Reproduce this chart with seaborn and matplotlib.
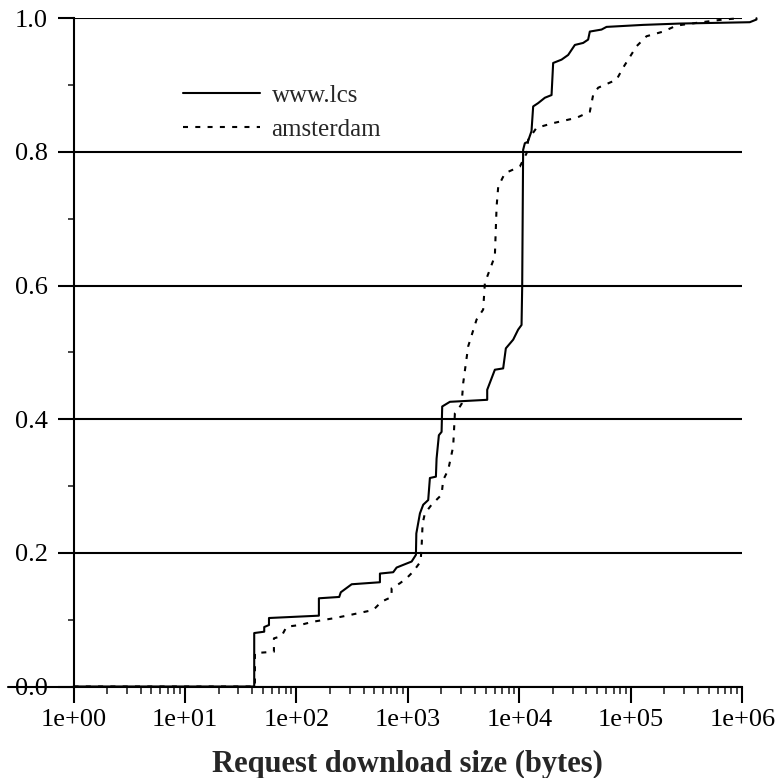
import numpy as np
import pandas as pd
import matplotlib
matplotlib.use("Agg")
import matplotlib.pyplot as plt
import matplotlib.ticker as mticker
import seaborn as sns

# ---- data (CDF vertices) ----
lcs_size = [1, 41.8, 41.8, 51.4, 51.4, 56.7, 56.7, 159, 159, 242, 250, 313, 561, 561,
            738, 792, 908, 1080, 1180, 1190, 1282, 1372, 1521, 1575, 1783, 1808, 1896,
            2005, 2031, 2381, 5146, 5146, 6027, 7155, 7564, 8800, 9750, 10460, 10600,
            10810, 11200, 11900, 12850, 13300, 14750, 16940, 19440, 20100, 23900, 27400,
            31470, 37350, 41400, 42860, 54580, 60530, 128900, 274900, 1167000, 1340000,
            1340000]
lcs_cdf = [0.0, 0.0, 0.080, 0.082, 0.089, 0.092, 0.1025, 0.106, 0.132, 0.134, 0.141, 0.153,
           0.156, 0.169, 0.171, 0.178, 0.182, 0.187, 0.197, 0.229, 0.259, 0.272, 0.279,
           0.312, 0.314, 0.341, 0.376, 0.381, 0.419, 0.426, 0.429, 0.444, 0.474, 0.476,
           0.506, 0.519, 0.534, 0.541, 0.598, 0.803, 0.813, 0.815, 0.831, 0.868, 0.873,
           0.881, 0.885, 0.933, 0.938, 0.945, 0.960, 0.963, 0.968, 0.980, 0.983, 0.987,
           0.990, 0.992, 0.994, 0.998, 1.0]

ams_size = [1, 42.4, 42.4, 62.8, 62.8, 73.6, 81.6, 107.5, 141.5, 213.9, 301.7, 488.6, 580.7,
            714, 714, 848, 973, 1116, 1300, 1327, 1355, 1420, 1631, 2005, 2073, 2298, 2547,
            2640, 2931, 3034, 3134, 3474, 4130, 4733, 4906, 6027, 6247, 6460, 7413, 10100,
            11610, 12000, 14260, 20100, 32590, 42860, 45900, 50930, 74450, 85310, 112500,
            138300, 195000, 257000, 388300, 673000, 950000]
ams_cdf = [0.0, 0.0, 0.050, 0.052, 0.072, 0.0756, 0.0895, 0.092, 0.097, 0.102, 0.107, 0.1145,
           0.127, 0.134, 0.147, 0.1545, 0.162, 0.172, 0.187, 0.209, 0.244, 0.259, 0.272,
           0.287, 0.309, 0.324, 0.359, 0.409, 0.419, 0.423, 0.454, 0.509, 0.549, 0.564,
           0.604, 0.644, 0.718, 0.748, 0.768, 0.778, 0.798, 0.818, 0.836, 0.843, 0.851,
           0.860, 0.885, 0.896, 0.908, 0.926, 0.958, 0.973, 0.980, 0.989, 0.993, 0.998, 1.0]

series_names = ["www.lcs", "amsterdam"]
x_ticks = [1e0, 1e1, 1e2, 1e3, 1e4, 1e5, 1e6]
y_ticks = [0.0, 0.2, 0.4, 0.6, 0.8, 1.0]
x_label = "Request download size (bytes)"

# ---- style ----
sns.set_style("ticks")
plt.rcParams["font.family"] = ["Liberation Serif", "DejaVu Serif"]
plt.rcParams["axes.linewidth"] = 1.5

fig = plt.figure(figsize=(7.78, 7.78), dpi=100)
ax = fig.add_axes([0.0945, 0.1176, 0.8596, 0.859])

lw = 1.5
sns.lineplot(x=lcs_size, y=lcs_cdf, ax=ax, color="black", lw=lw, sort=False,
             estimator=None, label=series_names[0], clip_on=False)
sns.lineplot(x=ams_size, y=ams_cdf, ax=ax, color="black", lw=lw, sort=False,
             estimator=None, label=series_names[1], linestyle=(0, (2.4, 3.5)), clip_on=False)

ax.set_xscale("log")
ax.set_xlim(1, 1e6)
ax.set_ylim(0, 1)

ax.set_xticks(x_ticks)
ax.xaxis.set_major_formatter(mticker.FuncFormatter(lambda v, p: f"{v:.0e}"))
ax.xaxis.set_minor_locator(mticker.LogLocator(base=10, subs=np.arange(2, 10), numticks=20))
ax.xaxis.set_minor_formatter(mticker.NullFormatter())
ax.set_yticks(y_ticks)
ax.yaxis.set_major_formatter(mticker.FuncFormatter(lambda v, p: f"{v:.1f}"))
ax.yaxis.set_minor_locator(mticker.MultipleLocator(0.1))

ax.tick_params(axis="both", which="major", direction="out", length=11.5, width=1.5,
               labelsize=19, color="black", labelcolor="black")
ax.tick_params(axis="x", which="major", pad=5)
ax.tick_params(axis="y", which="major", pad=7)
ax.tick_params(axis="x", which="minor", direction="out", length=5, width=1.2)
ax.tick_params(axis="y", which="minor", direction="out", length=4.3, width=1.2)

ax.yaxis.grid(True, which="major", color="black", lw=lw)
ax.xaxis.grid(False)
ax.axhline(0, xmin=-0.098, xmax=0, color="black", lw=lw, clip_on=False)

for s in ["top", "right"]:
    ax.spines[s].set_visible(False)
for s in ["left", "bottom"]:
    ax.spines[s].set_color("black")
    ax.spines[s].set_linewidth(lw)

ax.set_xlabel(x_label, fontsize=22, fontweight="bold", labelpad=13)
ax.set_ylabel("")

leg = ax.legend(loc="upper left", bbox_to_anchor=(0.1633, 0.901), frameon=False,
                fontsize=18, handlelength=3.1, handletextpad=0.45, labelspacing=0.45,
                borderpad=0, borderaxespad=0)
for line in leg.get_lines():
    line.set_linewidth(lw)

fig.savefig("out.png", dpi=100)
